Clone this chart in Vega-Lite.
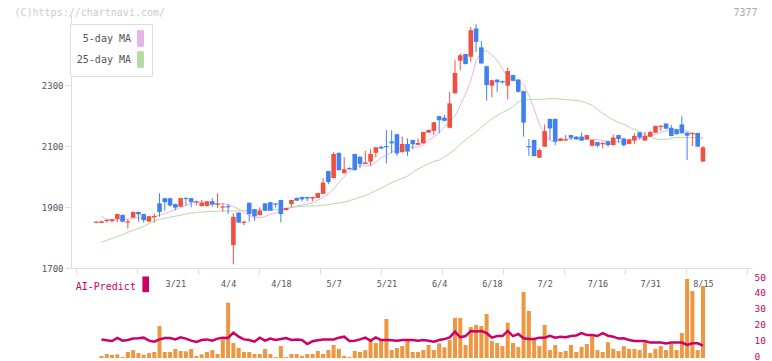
{
"$schema": "https://vega.github.io/schema/vega-lite/v6.json",
"width": 681, "height": 343,
"autosize": "none",
"padding": {"left": 71, "top": 15, "right": 20, "bottom": 3},
"background": "white",
"config": {"view": {"stroke": null}, "axis": {"grid": false, "labelFont": "DejaVu Sans Mono", "titleFont": "DejaVu Sans Mono"}, "legend": {"labelFont": "DejaVu Sans Mono", "titleFont": "DejaVu Sans Mono"}},
"data": {"values": [
{"i":0,"o":1848,"h":1853,"l":1847,"c":1852,"m5":null,"m25":null,"v":null,"ai":null},
{"i":1,"o":1848,"h":1854,"l":1847,"c":1853,"m5":1869,"m25":1785,"v":1.3,"ai":11.7},
{"i":2,"o":1854,"h":1859,"l":1849,"c":1858,"m5":1860,"m25":1791,"v":2.5,"ai":11.1},
{"i":3,"o":1854,"h":1861,"l":1849,"c":1860,"m5":1856,"m25":1797,"v":1.9,"ai":10.7},
{"i":4,"o":1861,"h":1878,"l":1850,"c":1877,"m5":1858,"m25":1803,"v":2.3,"ai":12.6},
{"i":5,"o":1874,"h":1876,"l":1850,"c":1852,"m5":1860,"m25":1809,"v":0.6,"ai":10.9},
{"i":6,"o":1849,"h":1860,"l":1829,"c":1853,"m5":1860,"m25":1817,"v":3.8,"ai":11.3},
{"i":7,"o":1865,"h":1885,"l":1864,"c":1884,"m5":1863,"m25":1824,"v":5.0,"ai":12.2},
{"i":8,"o":1884,"h":1885,"l":1852,"c":1876,"m5":1866,"m25":1830,"v":3.1,"ai":12.4},
{"i":9,"o":1877,"h":1878,"l":1849,"c":1857,"m5":1863,"m25":1837,"v":2.1,"ai":12.8},
{"i":10,"o":1852,"h":1871,"l":1851,"c":1870,"m5":1861,"m25":1845,"v":3.1,"ai":10.9},
{"i":11,"o":1867,"h":1879,"l":1849,"c":1871,"m5":1868,"m25":1853,"v":3.8,"ai":10.3},
{"i":12,"o":1912,"h":1945,"l":1868,"c":1884,"m5":1873,"m25":1860,"v":20.1,"ai":11.7},
{"i":13,"o":1929,"h":1930,"l":1888,"c":1916,"m5":1878,"m25":1863,"v":3.8,"ai":12.6},
{"i":14,"o":1929,"h":1930,"l":1901,"c":1905,"m5":1885,"m25":1867,"v":3.8,"ai":12.6},
{"i":15,"o":1910,"h":1911,"l":1890,"c":1898,"m5":1891,"m25":1870,"v":5.7,"ai":11.7},
{"i":16,"o":1901,"h":1930,"l":1900,"c":1929,"m5":1899,"m25":1873,"v":4.4,"ai":13.0},
{"i":17,"o":1930,"h":1931,"l":1905,"c":1926,"m5":1905,"m25":1877,"v":4.2,"ai":12.2},
{"i":18,"o":1929,"h":1930,"l":1899,"c":1916,"m5":1913,"m25":1880,"v":5.7,"ai":10.9},
{"i":19,"o":1915,"h":1921,"l":1905,"c":1919,"m5":1916,"m25":1882,"v":1.3,"ai":10.1},
{"i":20,"o":1903,"h":1923,"l":1902,"c":1914,"m5":1916,"m25":1884,"v":2.3,"ai":11.3},
{"i":21,"o":1903,"h":1920,"l":1902,"c":1919,"m5":1914,"m25":1885,"v":3.8,"ai":11.7},
{"i":22,"o":1919,"h":1929,"l":1901,"c":1908,"m5":1913,"m25":1886,"v":5.0,"ai":10.9},
{"i":23,"o":1907,"h":1945,"l":1897,"c":1911,"m5":1911,"m25":1886,"v":2.5,"ai":12.2},
{"i":24,"o":1898,"h":1912,"l":1885,"c":1902,"m5":1911,"m25":1887,"v":11.7,"ai":12.8},
{"i":25,"o":1903,"h":1910,"l":1877,"c":1899,"m5":1908,"m25":1887,"v":34.8,"ai":12.6},
{"i":26,"o":1775,"h":1879,"l":1712,"c":1868,"m5":1902,"m25":1887,"v":9.4,"ai":15.9},
{"i":27,"o":1882,"h":1883,"l":1848,"c":1849,"m5":1893,"m25":1888,"v":6.3,"ai":13.4},
{"i":28,"o":1848,"h":1855,"l":1841,"c":1852,"m5":1883,"m25":1888,"v":3.8,"ai":11.7},
{"i":29,"o":1914,"h":1915,"l":1852,"c":1877,"m5":1872,"m25":1889,"v":3.8,"ai":11.3},
{"i":30,"o":1893,"h":1894,"l":1855,"c":1870,"m5":1868,"m25":1889,"v":2.5,"ai":10.3},
{"i":31,"o":1874,"h":1899,"l":1872,"c":1888,"m5":1864,"m25":1890,"v":2.5,"ai":12.8},
{"i":32,"o":1912,"h":1913,"l":1887,"c":1888,"m5":1869,"m25":1890,"v":5.7,"ai":10.9},
{"i":33,"o":1916,"h":1917,"l":1887,"c":1888,"m5":1876,"m25":1891,"v":2.5,"ai":12.2},
{"i":34,"o":1912,"h":1913,"l":1899,"c":1908,"m5":1880,"m25":1891,"v":0.6,"ai":11.3},
{"i":35,"o":1923,"h":1924,"l":1850,"c":1877,"m5":1888,"m25":1893,"v":7.5,"ai":12.0},
{"i":36,"o":1890,"h":1898,"l":1889,"c":1897,"m5":1894,"m25":1896,"v":0.6,"ai":12.6},
{"i":37,"o":1910,"h":1924,"l":1899,"c":1923,"m5":1898,"m25":1899,"v":2.5,"ai":11.3},
{"i":38,"o":1930,"h":1931,"l":1920,"c":1921,"m5":1903,"m25":1901,"v":2.5,"ai":11.7},
{"i":39,"o":1933,"h":1934,"l":1919,"c":1925,"m5":1907,"m25":1902,"v":1.3,"ai":11.3},
{"i":40,"o":1933,"h":1934,"l":1919,"c":1928,"m5":1910,"m25":1903,"v":2.5,"ai":8.8},
{"i":41,"o":1928,"h":1934,"l":1919,"c":1933,"m5":1914,"m25":1904,"v":2.5,"ai":10.5},
{"i":42,"o":1930,"h":1947,"l":1929,"c":1946,"m5":1922,"m25":1904,"v":4.4,"ai":11.1},
{"i":43,"o":1943,"h":1995,"l":1942,"c":1980,"m5":1932,"m25":1906,"v":2.5,"ai":11.7},
{"i":44,"o":2018,"h":2019,"l":1975,"c":1982,"m5":1943,"m25":1908,"v":5.0,"ai":11.7},
{"i":45,"o":1995,"h":2080,"l":1994,"c":2074,"m5":1958,"m25":1911,"v":8.2,"ai":11.7},
{"i":46,"o":2077,"h":2080,"l":2020,"c":2021,"m5":1981,"m25":1913,"v":5.7,"ai":12.8},
{"i":47,"o":2011,"h":2064,"l":2010,"c":2024,"m5":1999,"m25":1916,"v":1.3,"ai":13.4},
{"i":48,"o":2028,"h":2031,"l":2022,"c":2024,"m5":2017,"m25":1921,"v":0.6,"ai":10.7},
{"i":49,"o":2074,"h":2075,"l":2020,"c":2021,"m5":2028,"m25":1926,"v":4.4,"ai":10.9},
{"i":50,"o":2065,"h":2066,"l":2027,"c":2041,"m5":2037,"m25":1932,"v":3.8,"ai":11.7},
{"i":51,"o":2041,"h":2085,"l":2040,"c":2046,"m5":2034,"m25":1938,"v":5.0,"ai":12.8},
{"i":52,"o":2049,"h":2090,"l":2035,"c":2074,"m5":2035,"m25":1945,"v":11.3,"ai":10.9},
{"i":53,"o":2078,"h":2097,"l":2063,"c":2096,"m5":2048,"m25":1954,"v":9.4,"ai":13.0},
{"i":54,"o":2098,"h":2100,"l":2090,"c":2092,"m5":2061,"m25":1962,"v":11.3,"ai":11.3},
{"i":55,"o":2100,"h":2152,"l":2043,"c":2096,"m5":2070,"m25":1971,"v":24.5,"ai":11.3},
{"i":56,"o":2115,"h":2152,"l":2076,"c":2109,"m5":2080,"m25":1980,"v":5.0,"ai":11.1},
{"i":57,"o":2139,"h":2140,"l":2068,"c":2076,"m5":2090,"m25":1988,"v":6.3,"ai":10.9},
{"i":58,"o":2080,"h":2131,"l":2079,"c":2107,"m5":2096,"m25":1994,"v":7.5,"ai":11.3},
{"i":59,"o":2107,"h":2125,"l":2068,"c":2082,"m5":2098,"m25":2002,"v":11.3,"ai":11.3},
{"i":60,"o":2120,"h":2121,"l":2089,"c":2106,"m5":2097,"m25":2014,"v":3.8,"ai":11.3},
{"i":61,"o":2104,"h":2125,"l":2103,"c":2110,"m5":2097,"m25":2025,"v":3.8,"ai":10.9},
{"i":62,"o":2109,"h":2147,"l":2108,"c":2146,"m5":2103,"m25":2033,"v":5.0,"ai":11.3},
{"i":63,"o":2144,"h":2154,"l":2143,"c":2153,"m5":2119,"m25":2042,"v":8.2,"ai":10.9},
{"i":64,"o":2150,"h":2179,"l":2136,"c":2178,"m5":2130,"m25":2050,"v":5.0,"ai":10.3},
{"i":65,"o":2198,"h":2199,"l":2142,"c":2185,"m5":2144,"m25":2054,"v":9.2,"ai":11.3},
{"i":66,"o":2193,"h":2202,"l":2181,"c":2183,"m5":2163,"m25":2064,"v":6.7,"ai":11.9},
{"i":67,"o":2160,"h":2278,"l":2158,"c":2240,"m5":2180,"m25":2076,"v":11.3,"ai":13.0},
{"i":68,"o":2273,"h":2382,"l":2272,"c":2340,"m5":2198,"m25":2089,"v":25.2,"ai":16.6},
{"i":69,"o":2380,"h":2404,"l":2349,"c":2398,"m5":2235,"m25":2106,"v":25.2,"ai":13.0},
{"i":70,"o":2402,"h":2403,"l":2368,"c":2369,"m5":2270,"m25":2120,"v":8.2,"ai":13.8},
{"i":71,"o":2393,"h":2490,"l":2377,"c":2480,"m5":2315,"m25":2133,"v":19.5,"ai":17.0},
{"i":72,"o":2486,"h":2500,"l":2409,"c":2442,"m5":2380,"m25":2146,"v":20.8,"ai":16.6},
{"i":73,"o":2424,"h":2445,"l":2370,"c":2371,"m5":2410,"m25":2162,"v":20.1,"ai":17.0},
{"i":74,"o":2362,"h":2363,"l":2249,"c":2300,"m5":2413,"m25":2176,"v":27.7,"ai":15.6},
{"i":75,"o":2298,"h":2318,"l":2260,"c":2316,"m5":2399,"m25":2189,"v":10.7,"ai":12.8},
{"i":76,"o":2318,"h":2319,"l":2278,"c":2309,"m5":2382,"m25":2200,"v":9.4,"ai":13.8},
{"i":77,"o":2313,"h":2315,"l":2305,"c":2309,"m5":2353,"m25":2210,"v":7.5,"ai":13.8},
{"i":78,"o":2298,"h":2358,"l":2254,"c":2346,"m5":2326,"m25":2219,"v":22.2,"ai":17.0},
{"i":79,"o":2333,"h":2334,"l":2313,"c":2314,"m5":2316,"m25":2229,"v":9.4,"ai":13.8},
{"i":80,"o":2318,"h":2320,"l":2275,"c":2278,"m5":2312,"m25":2245,"v":6.9,"ai":15.1},
{"i":81,"o":2280,"h":2282,"l":2131,"c":2177,"m5":2302,"m25":2251,"v":41.5,"ai":12.4},
{"i":82,"o":2100,"h":2123,"l":2068,"c":2096,"m5":2268,"m25":2252,"v":29.6,"ai":11.9},
{"i":83,"o":2120,"h":2121,"l":2066,"c":2067,"m5":2222,"m25":2253,"v":11.9,"ai":11.9},
{"i":84,"o":2062,"h":2092,"l":2061,"c":2087,"m5":2172,"m25":2253,"v":7.5,"ai":12.8},
{"i":85,"o":2098,"h":2171,"l":2097,"c":2149,"m5":2140,"m25":2254,"v":20.8,"ai":12.8},
{"i":86,"o":2189,"h":2190,"l":2120,"c":2158,"m5":2118,"m25":2255,"v":5.0,"ai":14.0},
{"i":87,"o":2189,"h":2190,"l":2103,"c":2115,"m5":2114,"m25":2256,"v":8.2,"ai":12.8},
{"i":88,"o":2117,"h":2126,"l":2116,"c":2125,"m5":2119,"m25":2254,"v":3.8,"ai":13.4},
{"i":89,"o":2118,"h":2136,"l":2117,"c":2122,"m5":2122,"m25":2252,"v":4.4,"ai":13.0},
{"i":90,"o":2136,"h":2137,"l":2120,"c":2127,"m5":2124,"m25":2251,"v":8.2,"ai":13.8},
{"i":91,"o":2131,"h":2132,"l":2121,"c":2122,"m5":2124,"m25":2250,"v":3.8,"ai":14.2},
{"i":92,"o":2131,"h":2144,"l":2117,"c":2118,"m5":2123,"m25":2247,"v":6.9,"ai":15.6},
{"i":93,"o":2122,"h":2137,"l":2121,"c":2136,"m5":2123,"m25":2241,"v":8.8,"ai":14.4},
{"i":94,"o":2101,"h":2121,"l":2100,"c":2120,"m5":2122,"m25":2234,"v":14.0,"ai":14.4},
{"i":95,"o":2113,"h":2114,"l":2096,"c":2101,"m5":2121,"m25":2220,"v":5.0,"ai":13.8},
{"i":96,"o":2106,"h":2114,"l":2092,"c":2110,"m5":2118,"m25":2207,"v":3.8,"ai":15.6},
{"i":97,"o":2116,"h":2117,"l":2098,"c":2103,"m5":2115,"m25":2196,"v":9.9,"ai":14.0},
{"i":98,"o":2103,"h":2138,"l":2102,"c":2128,"m5":2114,"m25":2186,"v":5.7,"ai":13.4},
{"i":99,"o":2136,"h":2137,"l":2111,"c":2123,"m5":2114,"m25":2177,"v":4.4,"ai":12.2},
{"i":100,"o":2125,"h":2126,"l":2098,"c":2103,"m5":2116,"m25":2172,"v":7.5,"ai":12.4},
{"i":101,"o":2107,"h":2123,"l":2106,"c":2122,"m5":2119,"m25":2162,"v":5.7,"ai":11.3},
{"i":102,"o":2118,"h":2142,"l":2106,"c":2133,"m5":2122,"m25":2154,"v":5.7,"ai":10.7},
{"i":103,"o":2145,"h":2146,"l":2122,"c":2128,"m5":2124,"m25":2148,"v":5.0,"ai":10.7},
{"i":104,"o":2118,"h":2147,"l":2117,"c":2133,"m5":2128,"m25":2135,"v":9.9,"ai":10.7},
{"i":105,"o":2131,"h":2150,"l":2130,"c":2146,"m5":2133,"m25":2131,"v":3.1,"ai":9.7},
{"i":106,"o":2144,"h":2167,"l":2143,"c":2166,"m5":2139,"m25":2123,"v":5.7,"ai":9.7},
{"i":107,"o":2163,"h":2168,"l":2150,"c":2167,"m5":2145,"m25":2122,"v":7.5,"ai":9.7},
{"i":108,"o":2174,"h":2175,"l":2156,"c":2157,"m5":2150,"m25":2122,"v":5.0,"ai":9.2},
{"i":109,"o":2160,"h":2169,"l":2132,"c":2133,"m5":2154,"m25":2126,"v":8.8,"ai":9.7},
{"i":110,"o":2155,"h":2156,"l":2138,"c":2139,"m5":2155,"m25":2128,"v":5.0,"ai":9.7},
{"i":111,"o":2171,"h":2198,"l":2141,"c":2142,"m5":2152,"m25":2128,"v":15.7,"ai":9.7},
{"i":112,"o":2144,"h":2145,"l":2054,"c":2134,"m5":2149,"m25":2128,"v":49.7,"ai":8.2},
{"i":113,"o":2139,"h":2144,"l":2100,"c":2143,"m5":2141,"m25":2128,"v":42.1,"ai":9.2},
{"i":114,"o":2143,"h":2144,"l":2097,"c":2098,"m5":2134,"m25":2128,"v":5.0,"ai":9.2},
{"i":115,"o":2049,"h":2100,"l":2048,"c":2096,"m5":2122,"m25":2128,"v":45.3,"ai":7.8}
]},
"layer": [
{
"layer": [
{"transform": [{"fold": ["m5", "m25"], "as": ["ma", "val"]}],
 "mark": {"type": "line", "strokeWidth": 1},
 "encoding": {
  "x": {"field": "i", "type": "quantitative", "scale": {"domain": [-3.83, 123.35], "nice": false, "zero": false},
        "axis": {"orient": "bottom", "offset": -90, "values": [-3.83, 7.73, 19.29, 30.86, 42.42, 53.98, 65.54, 77.1, 88.66, 100.23, 111.79, 123.35], "labels": false, "title": null, "tickColor": "#dddddd", "tickSize": 6, "domainColor": "#dddddd"}},
  "y": {"field": "val", "type": "quantitative", "scale": {"domain": [1700, 2530], "range": [253, 0], "nice": false, "zero": false},
        "axis": {"orient": "left", "values": [1700, 1900, 2100, 2300], "format": "d", "labelColor": "#555555", "labelFontSize": 9, "labelPadding": 2, "tickColor": "#dddddd", "tickSize": 6, "domainColor": "#dddddd",
                 "title": "(C)https://chartnavi.com/", "titleAngle": 0, "titleAlign": "left", "titleBaseline": "alphabetic", "titleX": -57, "titleY": 0, "titleColor": "#cccccc", "titleFontSize": 10, "titleFontWeight": "normal"}},
  "color": {"field": "ma", "type": "nominal", "scale": {"domain": ["m5", "m25"], "range": ["#e8b4e8", "#b4dca0"]},
    "legend": {"orient": "none", "legendX": -1, "legendY": 9, "title": null, "strokeColor": "#dddddd", "fillColor": "white", "padding": 6,
      "symbolType": "M-0.38,-1H0.38V1H-0.38Z", "symbolSize": 246, "symbolOffset": 56, "labelOffset": -18, "labelAlign": "right",
      "labelFontSize": 10, "labelColor": "#555555", "rowPadding": 0,
      "labelExpr": "datum.label == 'm5' ? '5-day MA' : '25-day MA'",
      "encode": {"symbols": {"update": {"fill": {"scale": "color", "field": "value"}, "stroke": {"value": "#555555"}, "strokeWidth": {"value": 1}, "opacity": {"value": 1}}},
                 "labels": {"update": {"align": {"value": "right"}}}}}}
 }},
{"mark": {"type": "rule", "strokeWidth": 1},
 "encoding": {
  "x": {"field": "i", "type": "quantitative", "scale": {"domain": [-3.83, 123.35], "nice": false, "zero": false}},
  "y": {"field": "l", "type": "quantitative", "scale": {"domain": [1700, 2530], "range": [253, 0], "nice": false, "zero": false}},
  "y2": {"field": "h"},
  "color": {"condition": {"test": "datum.c >= datum.o", "value": "#f05040"}, "value": "#4080f0"}
 }},
{"mark": {"type": "bar", "size": 4.6, "orient": "vertical"},
 "encoding": {
  "x": {"field": "i", "type": "quantitative", "scale": {"domain": [-3.83, 123.35], "nice": false, "zero": false}},
  "y": {"field": "o", "type": "quantitative", "scale": {"domain": [1700, 2530], "range": [253, 0], "nice": false, "zero": false}},
  "y2": {"field": "c"},
  "color": {"condition": {"test": "datum.c >= datum.o", "value": "#f05040"}, "value": "#4080f0"}
 }}
]
},
{
"layer": [
{"mark": {"type": "bar", "size": 4, "orient": "vertical", "color": "#f09640"},
 "encoding": {
  "x": {"field": "i", "type": "quantitative", "scale": {"domain": [-3.83, 123.35], "nice": false, "zero": false},
        "axis": {"orient": "bottom", "offset": -72, "values": [15, 25, 35, 45, 55, 65, 75, 85, 95, 105, 115], "ticks": false, "tickSize": 0, "domain": false, "labelPadding": 0, "labelBaseline": "alphabetic", "labelColor": "#555555", "labelFontSize": 8.5, "labelFlush": false, "labelOverlap": false, "title": null,
                 "labelExpr": "['3/21','4/4','4/18','5/7','5/21','6/4','6/18','7/2','7/16','7/31','8/15'][round((datum.value-15)/10)]"}},
  "y": {"field": "v", "type": "quantitative", "scale": {"domain": [0, 50], "range": [343, 263.5], "nice": false},
        "axis": {"orient": "right", "values": [0, 10, 20, 30, 40, 50], "labelColor": "#cc0066", "labelFontSize": 9.5, "labelOffset": -1.5, "labelPadding": 2, "ticks": false, "domain": false,
                 "title": "7377", "titleAngle": 0, "titleAlign": "right", "titleBaseline": "alphabetic", "titleX": 5, "titleY": 0, "titleColor": "#aaaaaa", "titleFontSize": 10, "titleFontWeight": "normal"}}
 }},
{"mark": {"type": "line", "strokeWidth": 2.5},
 "encoding": {
  "x": {"field": "i", "type": "quantitative", "scale": {"domain": [-3.83, 123.35], "nice": false, "zero": false}},
  "y": {"field": "ai", "type": "quantitative", "scale": {"domain": [0, 50], "range": [343, 263.5], "nice": false}},
  "stroke": {"datum": "AI-Predict", "type": "nominal", "scale": {"range": ["#cc0066"]},
    "legend": {"orient": "none", "legendX": 4.7, "legendY": 261.3, "title": "AI-Predict", "titleOrient": "left", "titleColor": "#cc0066", "titleFontSize": 10, "titleFontWeight": "normal", "titlePadding": 1, "padding": 0,
      "symbolType": "M-0.42,-1H0.42V1H-0.42Z", "symbolSize": 246, "labelExpr": "''",
      "encode": {"symbols": {"update": {"fill": {"value": "#cc0066"}, "stroke": {"value": "#cc0066"}, "strokeWidth": {"value": 0}, "opacity": {"value": 1}}},
                 "title": {"update": {"dy": {"value": 2.5}}}}}}
 }}
]
}
],
"resolve": {"scale": {"y": "independent"}, "axis": {"x": "independent", "y": "independent"}}
}
